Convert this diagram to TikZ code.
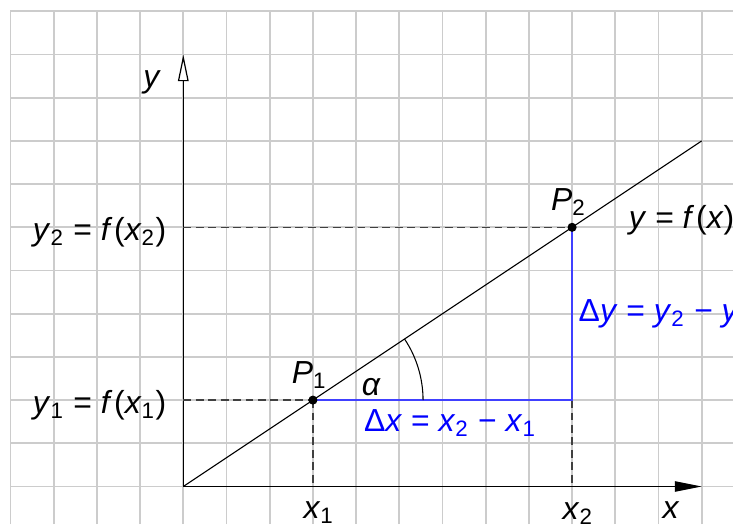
\documentclass[tikz,border=0pt]{standalone}
\usepackage{fontspec}
\setmainfont{Liberation Sans}
\usepackage{tikz}
\usetikzlibrary{arrows.meta}

\begin{document}
\begin{tikzpicture}[x=0.5cm,y=0.5cm,
  gridline/.style={draw=black!20,line width=0.6pt},
  axis/.style={line width=0.4pt},
  help/.style={draw=black!75,line width=0.4pt,dash pattern=on 2.6pt off 1.5pt},
  diff/.style={draw=blue!75,line width=0.4pt},
  lbl/.style={inner sep=0pt,font=\fontsize{10.5}{12.6}\selectfont},
  blbl/.style={lbl,text=blue},
  dot/.style={circle,fill=black,inner sep=0pt,minimum size=3pt}]
\useasboundingbox (-4.243,-0.868) rectangle (12.725,11.262);
\draw[gridline,step=0.5cm] (-4,-0.868) grid (12.725,11);
% points
\coordinate (O) at (0,0);
\coordinate (xend) at (12,0);
\coordinate (yend) at (0,10);
\coordinate (fend) at (12,8);
\coordinate (P1) at (3,2);
\coordinate (P2) at (9,6);
\coordinate (Q) at (9,2);
\coordinate (Y1) at (0,2);
\coordinate (Y2) at (0,6);
\coordinate (X1) at (3,0);
\coordinate (X2) at (9,0);
% axes
\draw[axis,-{Triangle[length=8.8pt,width=3.4pt]}] (O) -- (xend);
\draw[axis,-{Triangle[open,length=8.8pt,width=3.5pt,fill=white]}] (O) -- (yend);
% helper lines
\draw[help] (Y2) -- (P2);
\draw[help] (Y1) -- (P1);
\draw[help] (P1) -- (X1);
\draw[help] (Q) -- (X2);
% slope triangle
\draw[diff] (P1) -- (Q) -- (P2);
\draw[line width=0.35pt] (O) -- (fend);
\draw[line width=0.35pt] ([xshift=2.55*0.5cm]P1) arc[start angle=0,end angle=33.69,radius=2.55*0.5cm];
\node[dot] (p1) at (P1) {};
\node[dot] (p2) at (P2) {};
% labels
\node[lbl,anchor=center] (ylab) at (-0.72,9.36) {\textit{y}};
\node[lbl,anchor=base] (xlab) at (11.29,-0.75) {\textit{x}};
\node[lbl,anchor=base] (x1lab) at (3.14,-0.75) {\textit{x}\textsubscript{1}};
\node[lbl,anchor=base] (x2lab) at (9.14,-0.77) {\textit{x}\textsubscript{2}};
\node[lbl,anchor=base east] (y2lab) at (-0.38,5.69) {\textit{y}\textsubscript{2} = \textit{f}\kern0.6pt(\textit{x}\textsubscript{2})};
\node[lbl,anchor=base east] (y1lab) at (-0.38,1.69) {\textit{y}\textsubscript{1} = \textit{f}\kern0.6pt(\textit{x}\textsubscript{1})};
\node[lbl,anchor=base west] (p1lab) at (2.5,2.39) {\textit{P}\textsubscript{1}};
\node[lbl,anchor=base west] (p2lab) at (8.5,6.38) {\textit{P}\textsubscript{2}};
\node[lbl,anchor=base west] (flab) at (10.3,5.98) {\textit{y} = \textit{f}\kern0.6pt(\textit{x})};
\node[lbl,anchor=base west] (alab) at (4.12,2.1) {\textit{α}};
\node[blbl,anchor=base west] (dylab) at (9.14,3.81) {Δ\textit{y} = \textit{y}\textsubscript{2} − \textit{y}\textsubscript{1}};
\node[blbl,anchor=base west] (dxlab) at (4.17,1.27) {Δ\textit{x} = \textit{x}\textsubscript{2} − \textit{x}\textsubscript{1}};
\end{tikzpicture}
\end{document}
